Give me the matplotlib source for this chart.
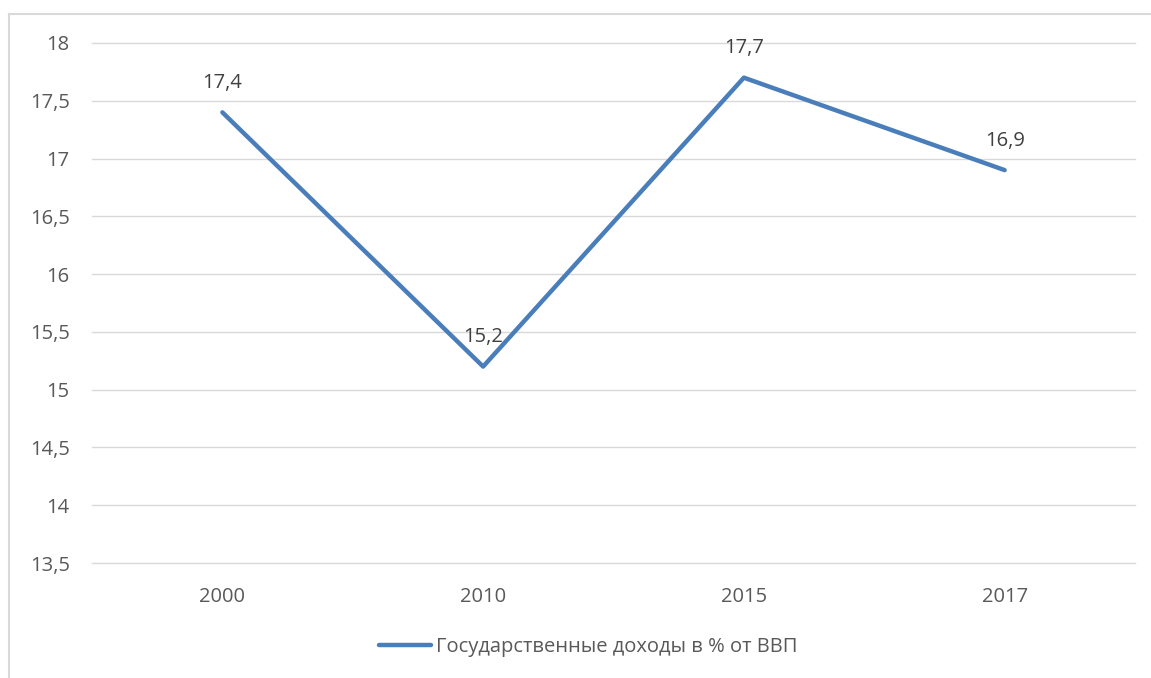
import matplotlib
matplotlib.use("Agg")
import matplotlib.pyplot as plt
from matplotlib.lines import Line2D

categories = ["2000", "2010", "2015", "2017"]
values = [17.4, 15.2, 17.7, 16.9]
value_labels = ["17,4", "15,2", "17,7", "16,9"]
y_ticks = [13.5, 14, 14.5, 15, 15.5, 16, 16.5, 17, 17.5, 18]
y_tick_labels = ["13,5", "14", "14,5", "15", "15,5", "16", "16,5", "17", "17,5", "18"]
series_name = "Государственные доходы в % от ВВП"

plt.rcParams['font.family'] = ['Open Sans', 'DejaVu Sans']
text_color = "#595959"
line_color = "#4a7ebb"
grid_color = "#d9d9d9"
fs = 14.5

fig = plt.figure(figsize=(11.51, 6.78), dpi=100)
ax = fig.add_axes([92/1151, 1-563/678, (1135-92)/1151, (563-43)/678])

x = list(range(len(categories)))
ax.plot(x, values, color=line_color, linewidth=3.2, solid_capstyle='round', zorder=3)
for xi, v, lab in zip(x, values, value_labels):
    ax.annotate(lab, (xi, v), xytext=(0, 14), textcoords='offset points',
                ha='center', va='bottom', fontsize=fs, color="#404040")

ax.set_xlim(-0.5, len(categories) - 0.5)
ax.set_ylim(13.5, 18)
ax.set_yticks(y_ticks)
ax.set_yticklabels(y_tick_labels)
ax.set_xticks(x)
ax.set_xticklabels(categories)
ax.tick_params(axis='both', length=0, labelsize=fs, colors=text_color)
ax.tick_params(axis='y', pad=16)
ax.tick_params(axis='x', pad=17)
ax.grid(axis='y', color=grid_color, linewidth=1)
for gl in ax.get_ygridlines():
    gl.set_clip_on(False)
ax.set_axisbelow(True)
for s in ax.spines.values():
    s.set_visible(False)

handle = Line2D([], [], color=line_color, linewidth=3.2, solid_capstyle='round')
fig.legend([handle], [series_name], loc='center', bbox_to_anchor=(588/1151, 1-647/678),
           frameon=False, fontsize=fs, labelcolor=text_color, handlelength=2.6,
           handletextpad=0.25)

# outer chart border (top and left visible)
fig.add_artist(Line2D([9/1151, 9/1151], [0, 1-14/678], color="#d9d9d9", linewidth=1.5, transform=fig.transFigure))
fig.add_artist(Line2D([9/1151, 1], [1-14/678, 1-14/678], color="#d9d9d9", linewidth=1.5, transform=fig.transFigure))

fig.savefig("out.png", dpi=100, facecolor="white")
